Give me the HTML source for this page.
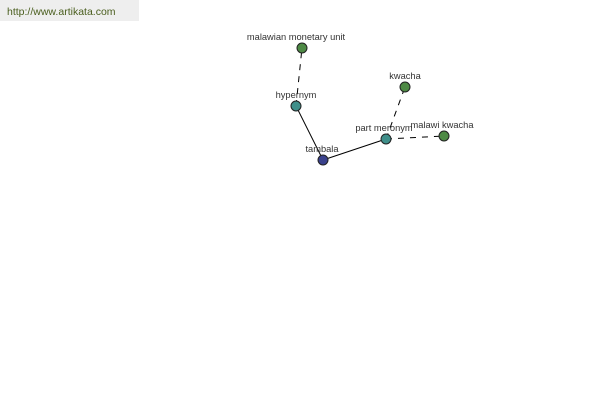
<!DOCTYPE html>
<html>
<head>
<meta charset="utf-8">
<style>
html,body{margin:0;padding:0;background:#fff;}
body{width:600px;height:400px;overflow:hidden;position:relative;}
svg{position:absolute;left:0;top:0;}
</style>
</head>
<body>
<svg width="600" height="400" viewBox="0 0 600 400" xmlns="http://www.w3.org/2000/svg">
  <rect x="0" y="0" width="139" height="21" fill="#eeeeee"/>
  <text x="7" y="15" font-family="Liberation Sans, sans-serif" font-size="10.5" fill="#4a5e1e">http://www.artikata.com</text>

  <g stroke="#000" stroke-width="1" fill="none">
    <line x1="296" y1="106" x2="302" y2="48" stroke-dasharray="6,6"/>
    <line x1="386" y1="139" x2="405" y2="87" stroke-dasharray="6,6"/>
    <line x1="386" y1="139" x2="444" y2="136" stroke-dasharray="6,6"/>
    <line x1="296" y1="106" x2="323" y2="160"/>
    <line x1="323" y1="160" x2="386" y2="139"/>
  </g>

  <g stroke="#222" stroke-width="1">
    <circle cx="302" cy="48" r="5" fill="#4e8a45"/>
    <circle cx="405" cy="87" r="5" fill="#4e8a45"/>
    <circle cx="444" cy="136" r="5" fill="#4e8a45"/>
    <circle cx="296" cy="106" r="5" fill="#3f8f8a"/>
    <circle cx="386" cy="139" r="5" fill="#3f8f8a"/>
    <circle cx="323" cy="160" r="5" fill="#3a418c"/>
  </g>

  <g font-family="Liberation Sans, sans-serif" font-size="9.3" fill="#333" text-anchor="middle">
    <text x="296" y="40">malawian monetary unit</text>
    <text x="296" y="98">hypernym</text>
    <text x="322" y="152">tambala</text>
    <text x="384" y="131">part meronym</text>
    <text x="405" y="79">kwacha</text>
    <text x="442" y="128">malawi kwacha</text>
  </g>
</svg>
</body>
</html>
